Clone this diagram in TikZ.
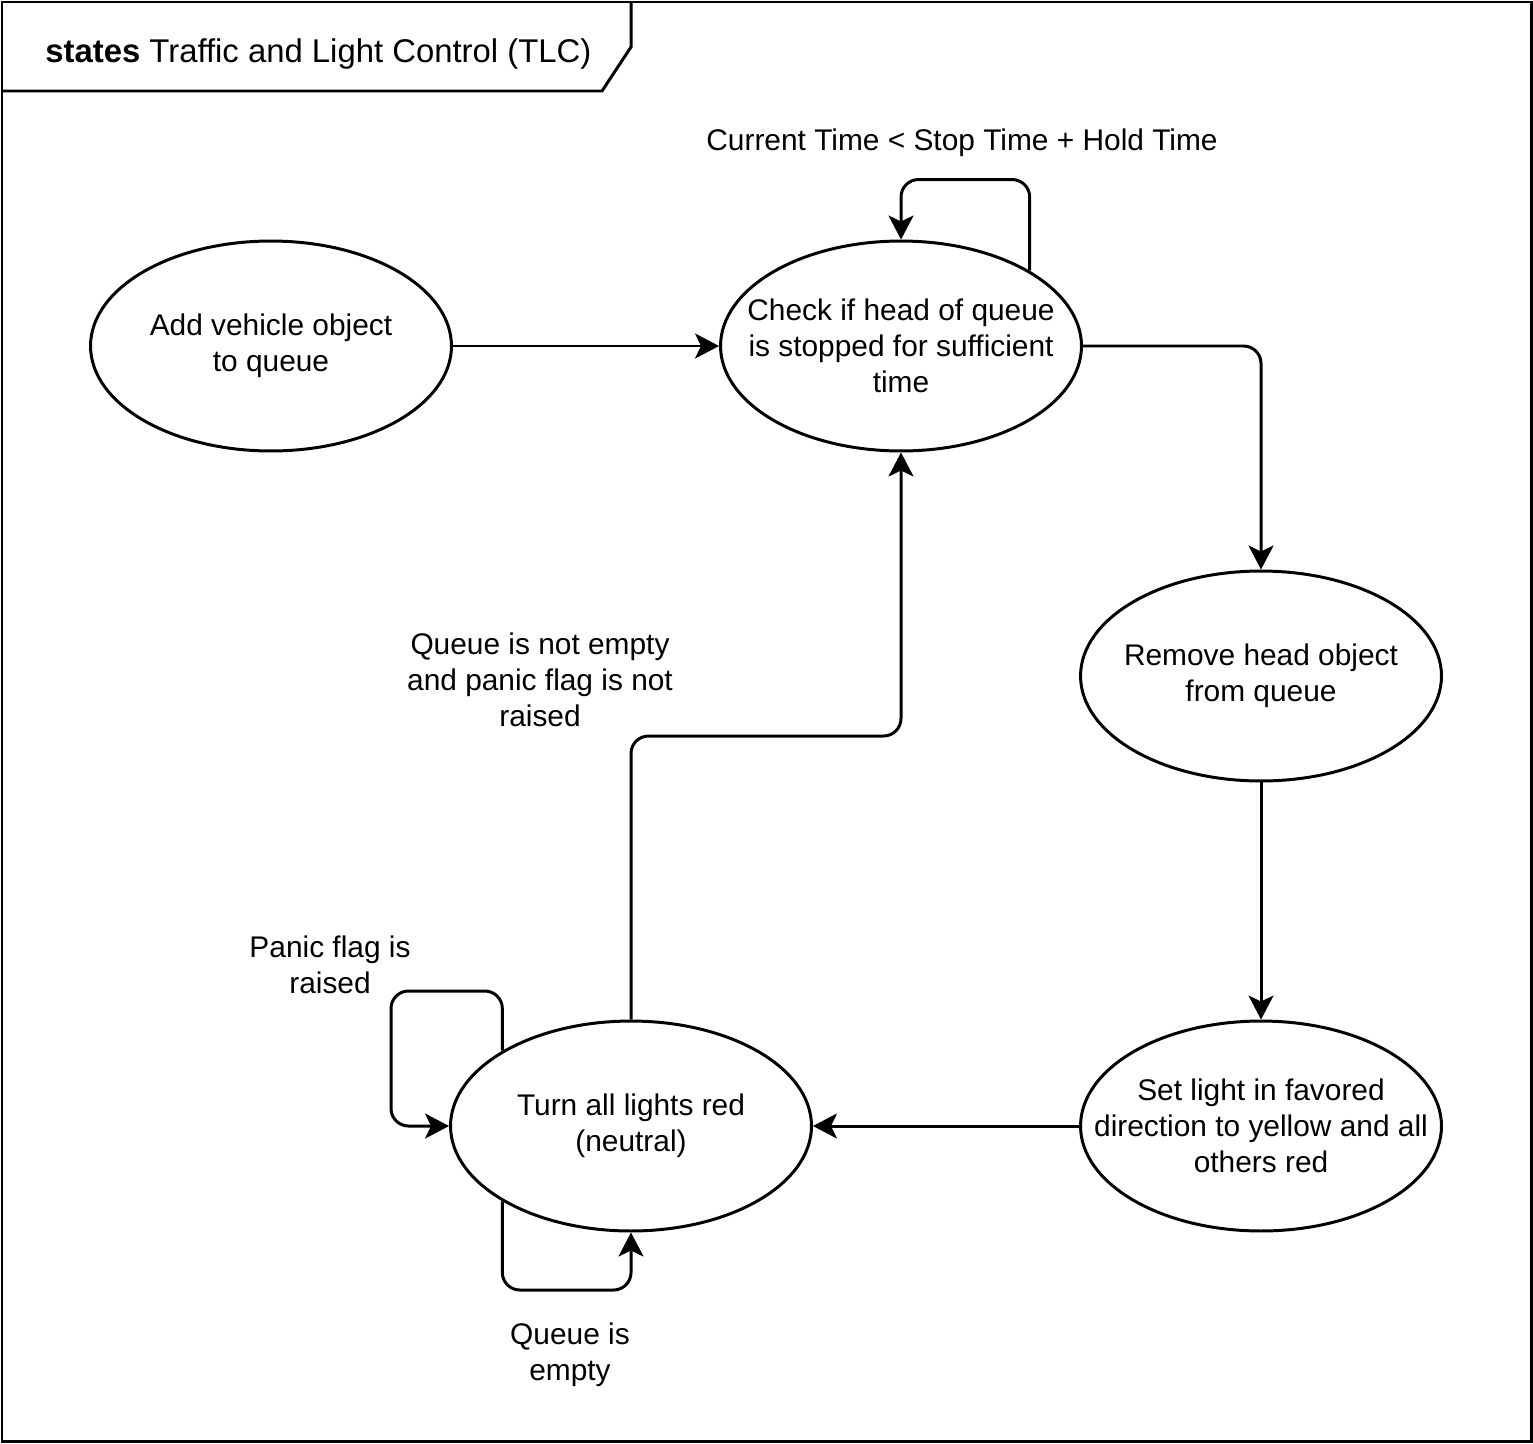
\documentclass[tikz,border=0pt]{standalone}
\usepackage{fontspec}
\setmainfont{Liberation Sans}
\usetikzlibrary{arrows.meta,shapes.geometric}

\tikzset{
    state/.style={draw,ellipse,line width=1.7pt,minimum width=7.22cm,minimum height=4.2cm,
        inner xsep=-2cm,inner ysep=0pt,align=center,font=\fontsize{17}{20.4}\selectfont},
    guard/.style={align=center,inner sep=0pt,font=\fontsize{17}{20.4}\selectfont},
    conn/.style={line width=1.7pt,rounded corners=0.35cm,
        -{Stealth[length=0.48cm,width=0.5cm,inset=0.12cm]}}
}

\begin{document}
\begin{tikzpicture}[x=0.02cm,y=-0.02cm]
    \useasboundingbox (0,0) rectangle (1533,1443);
    %frame and tab
    \draw[line width=1.7pt] (2,2) rectangle (1531,1441);
    \draw[line width=1.7pt] (2,91) -- (602,91) -- (631,47) -- (631,2);
    \node[anchor=base west,inner sep=0pt,font=\fontsize{18.7}{22.4}\selectfont] (title) at (45,63)
        {\textbf{states} Traffic and Light Control (TLC)};
    %states
    \node[state] (add) at (271,346) {Add vehicle object\\to queue};
    \node[state] (check) at (901,346) {Check if head of queue\\is stopped for sufficient\\time};
    \node[state] (remove) at (1261,676) {Remove head object\\from queue};
    \node[state] (yellow) at (1261,1126) {Set light in favored\\direction to yellow and all\\others red};
    \node[state] (red) at (631,1126) {Turn all lights red\\(neutral)};
    %guards
    \node[guard] (gwait) at (962,143) {Current Time < Stop Time + Hold Time};
    \node[guard] (gnext) at (540,680) {Queue is not empty\\and panic flag is not\\raised};
    \node[guard] (gpanic) at (330,965) {Panic flag is\\raised};
    \node[guard] (gempty) at (570,1355) {Queue is\\empty};
    %transitions
    \draw[conn] (add) -- (check);
    \draw[conn] (check.north east) |- ([yshift=1.2cm]check.north) -- (check.north);
    \draw[conn] (check.east) -| (remove.north);
    \draw[conn] (remove) -- (yellow);
    \draw[conn] (yellow) -- (red);
    \draw[conn] (red.north) |- (check.south |- 0,736) -- (check.south);
    \draw[conn] (red.north west) |- (391,991) |- (red.west);
    \draw[conn] (red.south west) |- (red.south |- 0,1290) -- (red.south);
\end{tikzpicture}
\end{document}
